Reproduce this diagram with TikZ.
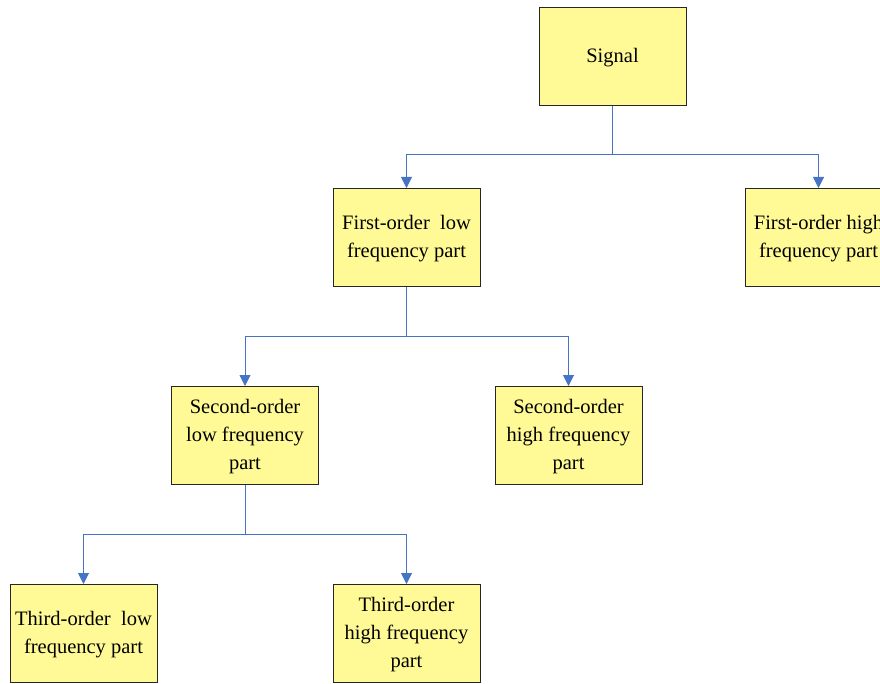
\documentclass[tikz,border=0pt]{standalone}
\usepackage{fontspec}
\setmainfont{Liberation Serif}
\usetikzlibrary{arrows.meta}
\definecolor{boxfill}{RGB}{255,250,150}
\definecolor{linkblue}{RGB}{70,115,195}
\newcommand\parttext[1]{\raisebox{-3pt}{\begin{tabular}{@{}c@{}}#1\end{tabular}}}
\tikzset{
	part/.style={draw=black!85,fill=boxfill,line width=1pt,minimum width=147pt,minimum height=98pt,font=\fontsize{20.5}{28}\selectfont,inner sep=2pt},
	link/.style={draw=linkblue,line width=1pt},
	linkto/.style={link,-{Triangle[width=11pt,length=11pt]}}
}
\begin{document}
\begin{tikzpicture}[x=1pt,y=-1pt]
		\useasboundingbox (0,0) rectangle (880,684);
		\clip (0,0) rectangle (880,684);
		% blocks
		\node[part] (sig) at (612.5,57) {\parttext{Signal}};
		\node[part] (fl) at (406.5,237.5) {\parttext{First-order\ \ low\\frequency part}};
		\node[part] (fh) at (818.5,237.5) {\parttext{First-order high\\frequency part}};
		\node[part] (sl) at (245,435.5) {\parttext{Second-order\\low frequency\\part}};
		\node[part] (sh) at (568.5,435.5) {\parttext{Second-order\\high frequency\\part}};
		\node[part] (tl) at (83.5,633.5) {\parttext{Third-order\ \ low\\frequency part}};
		\node[part] (th) at (406.5,633.5) {\parttext{Third-order\\high frequency\\part}};
		% splits
		\coordinate (j1) at (612.5,155);
		\coordinate (j2) at (406.5,336);
		\coordinate (j3) at (245,534);
		\draw[link] (sig.south) -- (j1);
		\draw[linkto] (j1) -| (fl.north);
		\draw[linkto] (j1) -| (fh.north);
		\draw[link] (fl.south) -- (j2);
		\draw[linkto] (j2) -| (sl.north);
		\draw[linkto] (j2) -| (sh.north);
		\draw[link] (sl.south) -- (j3);
		\draw[linkto] (j3) -| (tl.north);
		\draw[linkto] (j3) -| (th.north);
\end{tikzpicture}
\end{document}
